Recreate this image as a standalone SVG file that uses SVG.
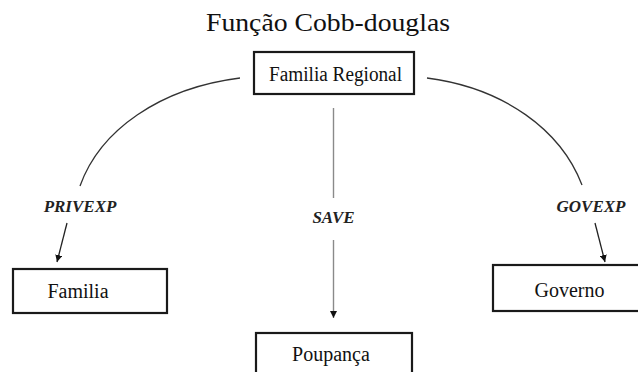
<svg xmlns="http://www.w3.org/2000/svg" width="638" height="372" viewBox="0 0 638 372">
  <style>
    .box { fill: #ffffff; stroke: #1a1a1a; stroke-width: 2.2; }
    .lbl { font-family: "Liberation Serif", "Times New Roman", serif; font-size: 20px; fill: #111111; text-anchor: middle; }
    .flow { font-family: "Liberation Serif", "Times New Roman", serif; font-size: 17px; font-weight: bold; font-style: italic; fill: #222222; text-anchor: middle; }
    .curve { fill: none; stroke: #333333; stroke-width: 1.3; }
    .stem { fill: none; stroke: #8a8a8a; stroke-width: 1.4; }
    .arrow { fill: none; stroke: #222222; stroke-width: 1.3; }
  </style>
  <defs>
    <marker id="head" viewBox="0 0 10 10" refX="10" refY="5" markerWidth="7" markerHeight="7" markerUnits="userSpaceOnUse" orient="auto">
      <path d="M0,0 L10,5 L0,10 Z" fill="#111111"/>
    </marker>
  </defs>

  <rect width="638" height="372" fill="#ffffff"/>

  <text x="328" y="31" font-family="Liberation Serif, Times New Roman, serif" font-size="25" fill="#111111" text-anchor="middle" textLength="244" lengthAdjust="spacingAndGlyphs">Função Cobb-douglas</text>

  <g id="connectors">
    <path class="curve" d="M240,78 C160,88 100,130 80,186"/>
    <path class="curve" d="M427,78 C504,88 561,130 582,185"/>
    <line class="stem" x1="333.5" y1="108" x2="333.5" y2="198"/>
    <line class="stem" x1="333.5" y1="240" x2="333.5" y2="318" marker-end="url(#head)"/>
    <line class="arrow" x1="67" y1="223" x2="57" y2="262" marker-end="url(#head)"/>
    <line class="arrow" x1="595" y1="223" x2="605" y2="262" marker-end="url(#head)"/>
    <text class="flow" x="80" y="212">PRIVEXP</text>
    <text class="flow" x="333.5" y="223">SAVE</text>
    <text class="flow" x="591" y="212">GOVEXP</text>
  </g>

  <g id="familia-regional">
    <rect class="box" x="254" y="52" width="160" height="42"/>
    <text class="lbl" x="335.5" y="81" textLength="133" lengthAdjust="spacingAndGlyphs">Familia Regional</text>
  </g>

  <g id="familia">
    <rect class="box" x="13" y="269" width="154" height="44"/>
    <text class="lbl" x="78" y="298">Familia</text>
  </g>

  <g id="governo">
    <rect class="box" x="493" y="265" width="150" height="46"/>
    <text class="lbl" x="569.5" y="297">Governo</text>
  </g>

  <g id="poupanca">
    <rect class="box" x="256" y="333" width="156" height="45"/>
    <text class="lbl" x="331" y="361">Poupança</text>
  </g>
</svg>
